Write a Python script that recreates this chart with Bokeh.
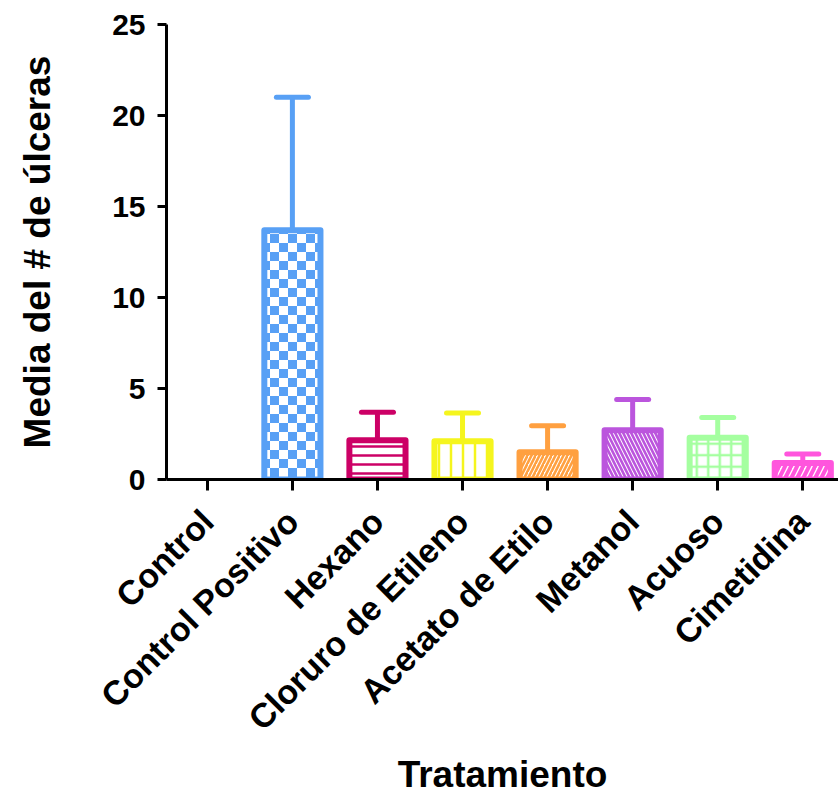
import math, zlib, struct, base64
from bokeh.plotting import figure
from bokeh.models import ColumnDataSource, Range1d, FixedTicker, ImageURLTexture
from bokeh.embed import file_html
from bokeh.resources import INLINE

# ---- data ----
categories = ["Control", "Control Positivo", "Hexano", "Cloruro de Etileno",
              "Acetato de Etilo", "Metanol", "Acuoso", "Cimetidina"]
means = [0.0, 13.7, 2.15, 2.1, 1.5, 2.7, 2.3, 0.9]
errors = [0.0, 7.3, 1.55, 1.55, 1.45, 1.7, 1.1, 0.5]
y_ticks = [0, 5, 10, 15, 20, 25]

# ---- styles ----
colors = ["#000000", "#58A0F5", "#CC0066", "#F5F51E", "#FFA040",
          "#BB55DD", "#A5FFA0", "#FF55DD"]
patterns = [" ", "checker", "horizontal_line", "vertical_line",
            "right_diagonal_line", "left_diagonal_line", "cross", "right_diagonal_line"]
hscale = [10, 18, 9, 12, 8, 8, 11.5, 12]
hweight = [1, 1, 2.5, 2.5, 2.6, 2.6, 2.5, 4]

idx = list(range(len(categories)))
upper = [m + e for m, e in zip(means, errors)]
alphas = [1.0 if m > 0 else 0.0 for m in means]

src = ColumnDataSource(dict(x=idx, top=means, upper=upper, color=colors,
                            pat=patterns, hs=hscale, hw=hweight, a=alphas))


def checker_png(rgb, cell=9):
    n = cell * 2
    rows = []
    for yy in range(n):
        row = bytearray(b"\x00")
        for xx in range(n):
            on = ((xx // cell) + (yy // cell)) % 2 == 0
            row += bytes(rgb) if on else b"\xff\xff\xff"
        rows.append(bytes(row))
    raw = b"".join(rows)

    def chunk(tag, data):
        c = struct.pack(">I", len(data)) + tag + data
        return c + struct.pack(">I", zlib.crc32(tag + data) & 0xffffffff)
    png = b"\x89PNG\r\n\x1a\n" + chunk(b"IHDR", struct.pack(">IIBBBBB", n, n, 8, 2, 0, 0, 0)) \
        + chunk(b"IDAT", zlib.compress(raw)) + chunk(b"IEND", b"")
    return "data:image/png;base64," + base64.b64encode(png).decode()


blue = tuple(int(colors[1][i:i + 2], 16) for i in (1, 3, 5))
checker = ImageURLTexture(url=checker_png(blue))

FONT = "Liberation Sans"

p = figure(width=838, height=797, output_backend="svg", toolbar_location=None,
           x_range=Range1d(-0.48, 7.42), y_range=Range1d(0, 25),
           min_border_left=166, min_border_right=0, min_border_top=24,
           min_border_bottom=317)
p.outline_line_color = None
p.grid.visible = False
p.background_fill_color = "white"
p.border_fill_color = "white"

p.vbar(x="x", top="top", bottom=0, width=0.66, source=src,
       fill_color="white", line_color="color", line_width=6, line_alpha="a",
       line_join="round",
       hatch_pattern="pat", hatch_color="color", hatch_scale="hs",
       hatch_weight="hw", hatch_alpha="a", hatch_extra={"checker": checker})

p.segment(x0="x", y0="top", x1="x", y1="upper", source=src,
          line_color="color", line_width=5, line_alpha="a")
p.scatter(x="x", y="upper", source=src, marker="dash", size=32,
          line_color="color", line_width=5, line_alpha="a", line_cap="round")

# axes
xa = p.xaxis[0]
xa.ticker = FixedTicker(ticks=idx)
xa.major_label_overrides = {i: c for i, c in enumerate(categories)}
xa.major_label_orientation = math.pi / 4
xa.axis_label = "Tratamiento"
ya = p.yaxis[0]
ya.ticker = FixedTicker(ticks=y_ticks)
ya.axis_label = "Media del # de úlceras"

for ax in (xa, ya):
    ax.axis_line_width = 3
    ax.axis_line_color = "black"
    ax.major_tick_line_width = 3
    ax.major_tick_line_color = "black"
    ax.major_tick_in = 0
    ax.minor_tick_line_color = None
    ax.major_label_text_font = FONT
    ax.major_label_text_font_style = "bold"
    ax.major_label_text_color = "black"
    ax.axis_label_text_font = FONT
    ax.axis_label_text_font_style = "bold"
    ax.axis_label_text_color = "black"
    ax.axis_label_text_font_size = "37px"

xa.major_tick_out = 11
xa.major_label_text_font_size = "34px"
xa.major_label_standoff = 25
xa.axis_label_standoff = 0
ya.major_tick_out = 9
ya.major_label_text_font_size = "30px"
ya.major_label_standoff = 12
ya.axis_label_standoff = 51

open("out.html", "w").write(file_html(p, INLINE))
